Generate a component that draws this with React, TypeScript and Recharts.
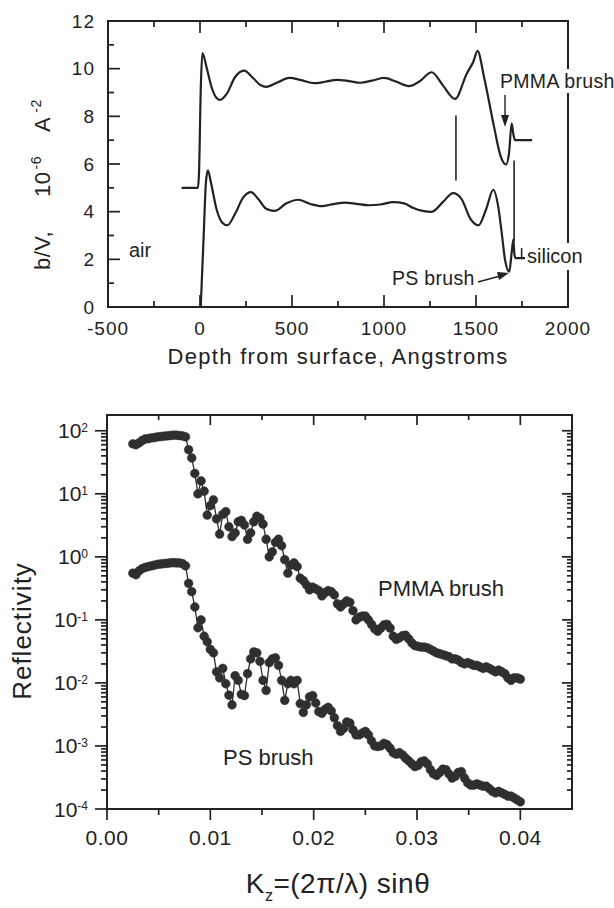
import React from 'react';
import { LineChart, Line, XAxis, YAxis, ReferenceLine, ReferenceArea } from 'recharts';

const FONT = 'Arial, "Liberation Sans", Helvetica, sans-serif';
const INK = '#222';
const DOT = '#2f2f2f';

// ---------- top panel: b/V depth profiles ----------
const depthPMMA = [-100, -12, -6, 5, 13, 36, 63, 90, 109, 145, 190, 239, 290, 330, 360, 420, 485, 550, 620, 680, 745, 810, 872, 935, 1000, 1065, 1135, 1190, 1259, 1320, 1386, 1449, 1486, 1508, 1545, 1597, 1635, 1664, 1680, 1694, 1703, 1712, 1805];
const sldPMMA = [5.0, 5.0, 5.5, 9.4, 10.65, 10.05, 9.22, 8.77, 8.69, 8.94, 9.64, 9.92, 9.6, 9.3, 9.24, 9.42, 9.61, 9.52, 9.39, 9.45, 9.53, 9.48, 9.41, 9.5, 9.61, 9.46, 9.27, 9.45, 9.85, 9.3, 8.73, 9.78, 10.3, 10.75, 9.6, 7.6, 6.3, 5.98, 6.5, 7.71, 7.25, 7.0, 7.0];
const depthPS = [4, 20, 32, 43, 60, 90, 120, 149, 190, 235, 277, 320, 360, 405, 470, 533, 600, 661, 725, 789, 850, 916, 980, 1050, 1110, 1160, 1259, 1320, 1375, 1420, 1470, 1513, 1555, 1594, 1621, 1640, 1658, 1681, 1694, 1703, 1709, 1716, 1777];
const sldPS = [0, 3.0, 5.2, 5.73, 5.2, 4.1, 3.55, 3.43, 3.9, 4.6, 4.82, 4.5, 4.12, 4.03, 4.35, 4.5, 4.32, 4.23, 4.32, 4.38, 4.33, 4.27, 4.3, 4.4, 4.35, 4.15, 3.99, 4.4, 4.78, 4.55, 3.7, 3.43, 4.1, 4.92, 4.2, 3.1, 1.97, 1.48, 2.3, 2.83, 2.2, 2.05, 2.05];
const depthTicks = [-500, -250, 0, 250, 500, 750, 1000, 1250, 1500, 1750, 2000];
const depthLabels = [-500, 0, 500, 1000, 1500, 2000];
const sldTicks = [0, 1, 2, 3, 4, 5, 6, 7, 8, 9, 10, 11, 12];
const sldLabels = [0, 2, 4, 6, 8, 10, 12];

// ---------- bottom panel: reflectivity ----------
const kz = [
  0.0025, 0.0028, 0.0031, 0.0034, 0.0037, 0.0040, 0.0043, 0.0046, 0.0049, 0.0052,
  0.0055, 0.0058, 0.0061, 0.0064, 0.0067, 0.0070, 0.0073, 0.0076, 0.0079, 0.0082,
  0.0085, 0.0088, 0.0091, 0.0094, 0.0097, 0.0100, 0.0103, 0.0106, 0.0109, 0.0112,
  0.0115, 0.0118, 0.0121, 0.0124, 0.0127, 0.0130, 0.0133, 0.0136, 0.0139, 0.0142,
  0.0145, 0.0148, 0.0151, 0.0154, 0.0157, 0.0160, 0.0163, 0.0166, 0.0169, 0.0172,
  0.0175, 0.0178, 0.0181, 0.0184, 0.0187, 0.0190, 0.0193, 0.0196, 0.0199, 0.0202,
  0.0205, 0.0208, 0.0211, 0.0214, 0.0217, 0.0220, 0.0223, 0.0226, 0.0229, 0.0232,
  0.0235, 0.0238, 0.0241, 0.0244, 0.0247, 0.0250, 0.0253, 0.0256, 0.0259, 0.0262,
  0.0265, 0.0268, 0.0271, 0.0274, 0.0277, 0.0280, 0.0283, 0.0286, 0.0289, 0.0292,
  0.0295, 0.0298, 0.0301, 0.0304, 0.0307, 0.0310, 0.0313, 0.0316, 0.0319, 0.0322,
  0.0325, 0.0328, 0.0331, 0.0334, 0.0337, 0.0340, 0.0343, 0.0346, 0.0349, 0.0352,
  0.0355, 0.0358, 0.0361, 0.0364, 0.0367, 0.0370, 0.0373, 0.0376, 0.0379, 0.0382,
  0.0385, 0.0388, 0.0391, 0.0394, 0.0397, 0.0400,
];
const reflPMMA = [
  62, 60, 64, 70, 74, 75, 77, 78, 80, 81,
  82, 83, 84, 85, 85, 84, 83, 80, 50, 37,
  21, 10, 16, 11, 4.6, 6.5, 8.0, 4.0, 2.3, 4.7,
  5.2, 3.0, 2.1, 2.4, 3.6, 3.8, 3.2, 1.9, 2.4, 3.6,
  4.4, 4.1, 3.3, 1.9, 1.0, 1.2, 1.7, 1.9, 1.5, 0.9,
  0.55, 0.74, 0.8, 0.7, 0.46, 0.42, 0.36, 0.30, 0.33, 0.31,
  0.29, 0.24, 0.27, 0.29, 0.28, 0.25, 0.18, 0.16, 0.18, 0.20,
  0.19, 0.14, 0.10, 0.11, 0.115, 0.115, 0.10, 0.085, 0.072, 0.066,
  0.074, 0.083, 0.085, 0.074, 0.055, 0.049, 0.052, 0.056, 0.057, 0.050,
  0.043, 0.039, 0.038, 0.037, 0.037, 0.036, 0.034, 0.032, 0.030, 0.029,
  0.028, 0.027, 0.026, 0.024, 0.024, 0.023, 0.021, 0.020, 0.021, 0.020,
  0.019, 0.019, 0.018, 0.017, 0.018, 0.017, 0.016, 0.015, 0.016, 0.015,
  0.014, 0.012, 0.011, 0.012, 0.012, 0.0115,
];
const reflPS = [
  0.55, 0.52, 0.60, 0.65, 0.68, 0.70, 0.72, 0.74, 0.76, 0.77,
  0.78, 0.79, 0.80, 0.81, 0.80, 0.80, 0.78, 0.72, 0.38, 0.28,
  0.16, 0.075, 0.10, 0.055, 0.045, 0.034, 0.030, 0.015, 0.012, 0.017,
  0.0097, 0.0064, 0.0045, 0.013, 0.011, 0.0066, 0.0063, 0.014, 0.024, 0.031,
  0.030, 0.022, 0.011, 0.0076, 0.021, 0.024, 0.025, 0.019, 0.011, 0.0053,
  0.0097, 0.011, 0.0097, 0.011, 0.0047, 0.0034, 0.0045, 0.0060, 0.0063, 0.0048,
  0.0035, 0.0033, 0.0038, 0.0041, 0.0036, 0.0028, 0.0021, 0.0017, 0.0019, 0.0024,
  0.0023, 0.0018, 0.0015, 0.0015, 0.0016, 0.0017, 0.0015, 0.0012, 0.0010, 0.00098,
  0.0010, 0.0011, 0.00105, 0.00092, 0.00078, 0.00074, 0.00078, 0.00072, 0.00064, 0.00058,
  0.00052, 0.00047, 0.00049, 0.00056, 0.00058, 0.00052, 0.00042, 0.00036, 0.00034, 0.00038,
  0.00043, 0.00042, 0.00036, 0.00031, 0.00033, 0.00038, 0.00039, 0.00031, 0.00026, 0.00024,
  0.00024, 0.00025, 0.00024, 0.00023, 0.00023, 0.00021, 0.00019, 0.00018, 0.00019, 0.00018,
  0.00017, 0.00016, 0.00016, 0.00015, 0.00014, 0.00013,
];
const kzTicks = [0, 0.005, 0.01, 0.015, 0.02, 0.025, 0.03, 0.035, 0.04];
const kzLabels = [0, 0.01, 0.02, 0.03, 0.04];
const reflDecades = [1e-4, 1e-3, 1e-2, 1e-1, 1, 10, 100];
const reflMinorMult = [1, 2, 3, 4, 5, 6, 7, 8, 9];
const reflMin = 1e-4;
const reflMax = 177.8;

const pmmaProfile = depthPMMA.map((d, i) => ({ d, v: sldPMMA[i] }));
const psProfile = depthPS.map((d, i) => ({ d, v: sldPS[i] }));
const pmmaRefl = kz.map((k, i) => ({ k, r: reflPMMA[i] }));
const psRefl = kz.map((k, i) => ({ k, r: reflPS[i] }));
const reflTicks = reflDecades
  .flatMap((d) => reflMinorMult.map((m) => m * d))
  .filter((v) => v <= reflMax);

type Side = 'bottom' | 'top' | 'left' | 'right';
interface TickSpec {
  side: Side;
  inward: boolean;
  isMajor: (v: number) => boolean;
  majorLen: number;
  minorLen: number;
  render?: (v: number, x: number, y: number) => React.ReactNode;
}

const near = (list: number[]) => (v: number) =>
  list.some((m) => Math.abs(m - v) <= 1e-9 * Math.max(1e-6, Math.abs(m)) + 1e-12);

const TW = 1.7; // tick stroke width

function makeTick(spec: TickSpec) {
  return (props: any) => {
    const x = Number(props.x);
    const y = Number(props.y);
    const v = Number(props.payload.value);
    const major = spec.isMajor(v);
    const len = major ? spec.majorLen : spec.minorLen;
    const s = spec.inward ? 1 : -1;
    let rect: { x: number; y: number; w: number; h: number };
    if (spec.side === 'bottom') {
      const y2 = y - s * len;
      rect = { x: x - TW / 2, y: Math.min(y, y2), w: TW, h: len };
    } else if (spec.side === 'top') {
      const y2 = y + s * len;
      rect = { x: x - TW / 2, y: Math.min(y, y2), w: TW, h: len };
    } else if (spec.side === 'left') {
      const x2 = x + s * len;
      rect = { x: Math.min(x, x2), y: y - TW / 2, w: len, h: TW };
    } else {
      const x2 = x - s * len;
      rect = { x: Math.min(x, x2), y: y - TW / 2, w: len, h: TW };
    }
    return (
      <g>
        <rect x={rect.x} y={rect.y} width={rect.w} height={rect.h} fill={INK} stroke="none" />
        {major && spec.render ? spec.render(v, x, y) : null}
      </g>
    );
  };
}

const topBottomTick = makeTick({
  side: 'bottom', inward: true, isMajor: near(depthLabels), majorLen: 12, minorLen: 6,
  render: (v, x, y) => (
    <text x={x} y={y + 28} textAnchor="middle" fontSize={19} letterSpacing={1} fill={INK} stroke="none" fontFamily={FONT}>{v}</text>
  ),
});
const topTopTick = makeTick({ side: 'top', inward: true, isMajor: near(depthLabels), majorLen: 12, minorLen: 6 });
const topLeftTick = makeTick({
  side: 'left', inward: true, isMajor: near(sldLabels), majorLen: 12, minorLen: 6,
  render: (v, x, y) => (
    <text x={x - 13} y={y + 6.5} textAnchor="end" fontSize={19} letterSpacing={1} fill={INK} stroke="none" fontFamily={FONT}>{v}</text>
  ),
});

const isDecade = (v: number) => Math.abs(Math.log10(v) - Math.round(Math.log10(v))) < 1e-6;
const botBottomTick = makeTick({
  side: 'bottom', inward: false, isMajor: near(kzLabels), majorLen: 11, minorLen: 6,
  render: (v, x, y) => (
    <text x={x} y={y + 36} textAnchor="middle" fontSize={21} letterSpacing={0.5} fill={INK} stroke="none" fontFamily={FONT}>{v.toFixed(2)}</text>
  ),
});
const botTopTick = makeTick({ side: 'top', inward: true, isMajor: near(kzLabels), majorLen: 10, minorLen: 5 });
const botLeftTick = makeTick({
  side: 'left', inward: false, isMajor: isDecade, majorLen: 12, minorLen: 6,
  render: (v, x, y) => (
    <text x={x - 19} y={y + 7.5} textAnchor="end" fontSize={21} fill={INK} stroke="none" fontFamily={FONT}>
      <tspan>10</tspan>
      <tspan dy={-6.5} fontSize={12}>{Math.round(Math.log10(v))}</tspan>
    </text>
  ),
});
const botRightTick = makeTick({ side: 'right', inward: true, isMajor: isDecade, majorLen: 10, minorLen: 5 });

function TopPanel() {
  return (
    <LineChart width={614} height={380} margin={{ top: 20, right: 45, bottom: 33, left: 48 }}>
      <XAxis xAxisId="b" dataKey="d" type="number" domain={[-500, 2000]} ticks={depthTicks} interval={0}
        allowDataOverflow tickSize={0} tickMargin={0} height={40} axisLine={false} tickLine={false} tick={topBottomTick} />
      <XAxis xAxisId="t" orientation="top" dataKey="d" type="number" domain={[-500, 2000]} ticks={depthTicks} interval={0}
        allowDataOverflow tickSize={0} tickMargin={0} height={1} axisLine={false} tickLine={false} tick={topTopTick} />
      <YAxis yAxisId="l" type="number" domain={[0, 12]} ticks={sldTicks} interval={0} allowDataOverflow
        tickSize={0} tickMargin={0} width={60} axisLine={false} tickLine={false} tick={topLeftTick} />
      <YAxis yAxisId="r" orientation="right" type="number" domain={[0, 12]} ticks={sldTicks} allowDataOverflow
        tickSize={0} tickMargin={0} width={1} axisLine={false} tickLine={false} tick={false} />
      <ReferenceArea xAxisId="b" yAxisId="l" x1={-500} x2={2000} y1={0} y2={12} fill="none" fillOpacity={0}
        stroke={INK} strokeWidth={2} ifOverflow="visible" />
      <ReferenceLine xAxisId="b" yAxisId="l" segment={[{ x: 1391, y: 5.31 }, { x: 1391, y: 8.03 }]} stroke={INK} strokeWidth={1.6} />
      <ReferenceLine xAxisId="b" yAxisId="l" segment={[{ x: 1707, y: 2.75 }, { x: 1707, y: 6.15 }]} stroke={INK} strokeWidth={1.6} />
      <ReferenceLine xAxisId="b" yAxisId="l" segment={[{ x: 1748, y: 2.05 }, { x: 1748, y: 2.47 }]} stroke={INK} strokeWidth={1.6} />
      <Line xAxisId="b" yAxisId="l" data={pmmaProfile} dataKey="v" type="monotone" stroke={INK} strokeWidth={2.2}
        dot={false} activeDot={false} isAnimationActive={false} />
      <Line xAxisId="b" yAxisId="l" data={psProfile} dataKey="v" type="monotone" stroke={INK} strokeWidth={2.2}
        dot={false} activeDot={false} isAnimationActive={false} />
    </LineChart>
  );
}

function BottomPanel() {
  return (
    <LineChart width={614} height={528} margin={{ top: 34, right: 41, bottom: 39, left: 47 }}>
      <XAxis xAxisId="b" dataKey="k" type="number" domain={[0, 0.045]} ticks={kzTicks} interval={0}
        allowDataOverflow tickSize={0} tickMargin={0} height={60} axisLine={false} tickLine={false} tick={botBottomTick} />
      <XAxis xAxisId="t" orientation="top" dataKey="k" type="number" domain={[0, 0.045]} ticks={kzTicks} interval={0}
        allowDataOverflow tickSize={0} tickMargin={0} height={1} axisLine={false} tickLine={false} tick={botTopTick} />
      <YAxis yAxisId="l" type="number" scale="log" domain={[reflMin, reflMax]} ticks={reflTicks} interval={0} allowDataOverflow
        tickSize={0} tickMargin={0} width={60} axisLine={false} tickLine={false} tick={botLeftTick} />
      <YAxis yAxisId="r" orientation="right" type="number" scale="log" domain={[reflMin, reflMax]} ticks={reflTicks} interval={0}
        allowDataOverflow tickSize={0} tickMargin={0} width={1} axisLine={false} tickLine={false} tick={botRightTick} />
      <ReferenceArea xAxisId="b" yAxisId="l" x1={0} x2={0.045} y1={reflMin} y2={reflMax} fill="none" fillOpacity={0}
        stroke={INK} strokeWidth={2} ifOverflow="visible" />
      <Line xAxisId="b" yAxisId="l" data={pmmaRefl} dataKey="r" type="linear" stroke={DOT} strokeWidth={1.3}
        dot={{ r: 4.4, fill: DOT, stroke: DOT, strokeWidth: 0.5 }} activeDot={false} isAnimationActive={false} />
      <Line xAxisId="b" yAxisId="l" data={psRefl} dataKey="r" type="linear" stroke={DOT} strokeWidth={1.3}
        dot={{ r: 4.4, fill: DOT, stroke: DOT, strokeWidth: 0.5 }} activeDot={false} isAnimationActive={false} />
    </LineChart>
  );
}

function Overlay() {
  return (
    <svg width={614} height={908} style={{ position: 'absolute', left: 0, top: 0, pointerEvents: 'none' }}
      fontFamily={FONT} fill={INK}>
      {/* top panel texts */}
      <text transform="translate(50,184) rotate(-90)" fontSize={22} letterSpacing={0.5}>
        <tspan x={-86}>b/V,</tspan>
        <tspan dx={34}>10</tspan>
        <tspan dx={2} dy={-9} fontSize={14}>-6</tspan>
        <tspan dx={24} dy={9}>A</tspan>
        <tspan dx={4} dy={-9} fontSize={14}>-2</tspan>
      </text>
      <text x={338} y={364} textAnchor="middle" fontSize={22} letterSpacing={1.3}>Depth from surface, Angstroms</text>
      <text x={129} y={257} fontSize={20}>air</text>
      <rect x={497} y={69} width={117} height={24} fill="#fff" />
      <text x={500} y={88} fontSize={19.5} letterSpacing={0.3}>PMMA brush</text>
      <line x1={505} y1={95} x2={505} y2={118} stroke={INK} strokeWidth={1.4} />
      <polygon points="501,115 509,115 505,127" fill={INK} />
      <rect x={525} y={243} width={70} height={27} fill="#fff" />
      <text x={527} y={263} fontSize={20}>silicon</text>
      <text x={392} y={285} fontSize={19.5} letterSpacing={0.3}>PS brush</text>
      <line x1={478} y1={282} x2={500} y2={276} stroke={INK} strokeWidth={1.4} />
      <polygon points="497,272 499,280 509,273" fill={INK} />
      {/* bottom panel texts */}
      <text transform="translate(31,631) rotate(-90)" textAnchor="middle" fontSize={26} letterSpacing={1}>Reflectivity</text>
      <text x={338} y={893} textAnchor="middle" fontSize={28} letterSpacing={0.5}>
        <tspan>K</tspan>
        <tspan dy={8} fontSize={16}>z</tspan>
        <tspan dy={-8}>=(2π/λ) sinθ</tspan>
      </text>
      <text x={378} y={596} fontSize={22}>PMMA brush</text>
      <text x={223} y={765} fontSize={22}>PS brush</text>
    </svg>
  );
}

export default function App() {
  return (
    <div style={{ position: 'absolute', left: 0, top: 0, width: 614, height: 908, background: '#fff', fontFamily: FONT }}>
      <div style={{ position: 'absolute', left: 0, top: 0 }}>
        <TopPanel />
      </div>
      <div style={{ position: 'absolute', left: 0, top: 380 }}>
        <BottomPanel />
      </div>
      <Overlay />
    </div>
  );
}
